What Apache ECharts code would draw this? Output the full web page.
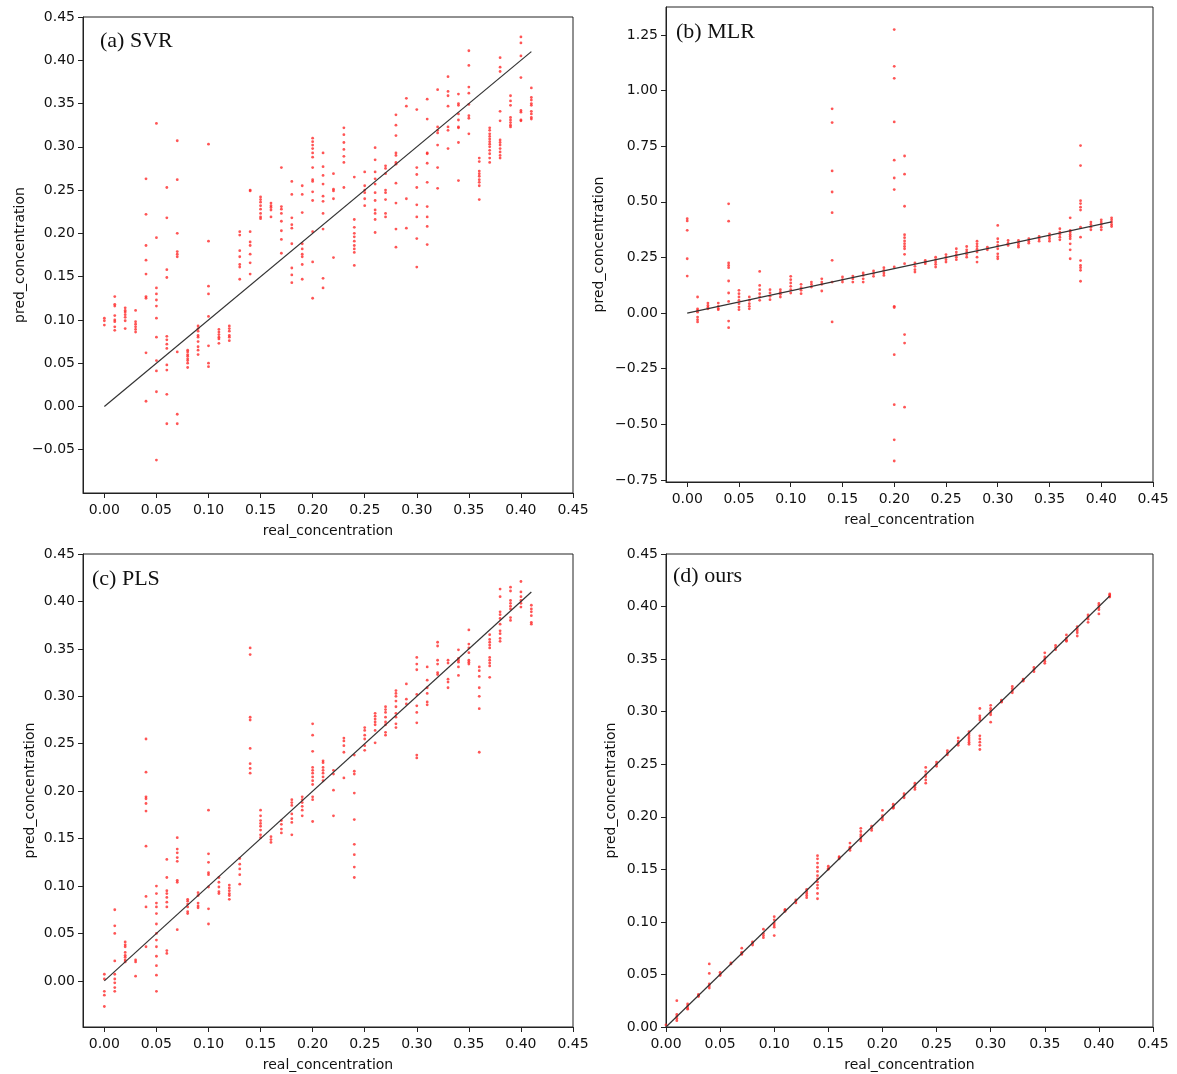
<!DOCTYPE html>
<html><head><meta charset="utf-8">
<script src="https://cdn.jsdelivr.net/npm/echarts@6/dist/echarts.min.js"></script>
<style>html,body{margin:0;padding:0;background:#fff}#c{width:1177px;height:1074px}</style>
</head><body><div id="c"></div>
<script>
const realConc = [0.00,0.01,0.02,0.03,0.04,0.05,0.06,0.07,0.08,0.09,0.10,0.11,0.12,0.13,0.14,0.15,0.16,0.17,0.18,0.19,0.20,0.21,0.22,0.23,0.24,0.25,0.26,0.27,0.28,0.29,0.30,0.31,0.32,0.33,0.34,0.35,0.36,0.37,0.38,0.39,0.40,0.41];

const svrPred = [
[0.102,0.099,0.094],
[0.127,0.118,0.116,0.105,0.100,0.098,0.092,0.088],
[0.114,0.111,0.109,0.106,0.103,0.099,0.090],
[0.111,0.098,0.095,0.092,0.089,0.086],
[0.263,0.222,0.186,0.169,0.153,0.127,0.125,0.062,0.006],
[0.327,0.195,0.137,0.130,0.123,0.116,0.102,0.080,0.053,0.041,0.017,-0.062],
[0.253,0.218,0.158,0.149,0.081,0.077,0.072,0.067,0.048,0.042,0.014,-0.020],
[0.307,0.262,0.200,0.179,0.176,0.173,0.063,-0.009,-0.020],
[0.065,0.063,0.060,0.058,0.055,0.053,0.050,0.045],
[0.093,0.090,0.087,0.082,0.080,0.075,0.069,0.065,0.060],
[0.303,0.191,0.139,0.130,0.104,0.070,0.050,0.046],
[0.089,0.086,0.083,0.080,0.078,0.073],
[0.093,0.090,0.087,0.082,0.080,0.076],
[0.202,0.198,0.180,0.173,0.164,0.161,0.147],
[0.250,0.249,0.202,0.190,0.186,0.176,0.166,0.153],
[0.242,0.239,0.236,0.232,0.228,0.223,0.219,0.217],
[0.235,0.232,0.230,0.227,0.219],
[0.276,0.231,0.228,0.223,0.214,0.203,0.193,0.177],
[0.260,0.245,0.218,0.210,0.206,0.188,0.160,0.152,0.143],
[0.255,0.245,0.224,0.188,0.182,0.176,0.173,0.164,0.147],
[0.310,0.306,0.302,0.298,0.293,0.288,0.276,0.262,0.260,0.248,0.238,0.202,0.167,0.125],
[0.293,0.277,0.267,0.257,0.243,0.237,0.223,0.205,0.148,0.137],
[0.269,0.251,0.249,0.240,0.172],
[0.322,0.314,0.305,0.297,0.289,0.282,0.253],
[0.265,0.216,0.207,0.200,0.196,0.191,0.186,0.182,0.178,0.163],
[0.271,0.255,0.250,0.247,0.240,0.232],
[0.299,0.285,0.271,0.263,0.257,0.247,0.238,0.227,0.223,0.216,0.201],
[0.278,0.275,0.269,0.250,0.247,0.239,0.223,0.219],
[0.337,0.325,0.313,0.293,0.290,0.282,0.280,0.258,0.235,0.205,0.184],
[0.356,0.347,0.240,0.206],
[0.343,0.276,0.268,0.253,0.233,0.219,0.194,0.161],
[0.355,0.332,0.293,0.292,0.281,0.259,0.231,0.219,0.208,0.187],
[0.366,0.323,0.319,0.316,0.302,0.276,0.252],
[0.381,0.364,0.359,0.347,0.323,0.319,0.298],
[0.361,0.350,0.348,0.338,0.331,0.323,0.322,0.305,0.261],
[0.411,0.394,0.369,0.362,0.349,0.336,0.333,0.315],
[0.287,0.283,0.272,0.269,0.266,0.262,0.259,0.255,0.239],
[0.322,0.319,0.315,0.312,0.309,0.306,0.303,0.300,0.296,0.292,0.287,0.282],
[0.403,0.392,0.387,0.341,0.330,0.308,0.305,0.302,0.298,0.294,0.290,0.287],
[0.359,0.353,0.348,0.334,0.331,0.328,0.325,0.323],
[0.427,0.420,0.405,0.380,0.342,0.340,0.331,0.330],
[0.368,0.357,0.354,0.350,0.348,0.341,0.338,0.334,0.332]
];

const mlrPred = [
[0.424,0.414,0.372,0.244,0.166],
[0.072,0.019,0.012,0.004,-0.018,-0.030,-0.040],
[0.045,0.034,0.025,0.019],
[0.045,0.030,0.020,0.015],
[0.491,0.413,0.225,0.214,0.204,0.144,0.090,0.052,-0.036,-0.066],
[0.102,0.087,0.072,0.057,0.042,0.027,0.015],
[0.072,0.057,0.042,0.030,0.019],
[0.187,0.124,0.105,0.087,0.072,0.057],
[0.105,0.090,0.075,0.060],
[0.105,0.094,0.084,0.072],
[0.165,0.150,0.135,0.120,0.105,0.090],
[0.129,0.114,0.102,0.087],
[0.139,0.129,0.117],
[0.154,0.139,0.129,0.099],
[0.918,0.856,0.639,0.544,0.451,0.237,0.139,-0.040],
[0.162,0.150,0.139],
[0.166,0.154,0.139],
[0.180,0.169,0.154,0.139],
[0.189,0.177,0.165],
[0.204,0.192,0.180,0.169],
[1.274,1.109,1.055,0.859,0.687,0.607,0.555,0.207,0.030,0.025,-0.187,-0.412,-0.570,-0.665],
[0.706,0.624,0.480,0.352,0.339,0.324,0.312,0.300,0.289,0.264,0.222,-0.097,-0.135,-0.423],
[0.225,0.210,0.195,0.184],
[0.237,0.229,0.222],
[0.251,0.240,0.229,0.219,0.207],
[0.263,0.251,0.240,0.229],
[0.289,0.274,0.263,0.251,0.240],
[0.299,0.284,0.274,0.263,0.251],
[0.323,0.311,0.299,0.287,0.274,0.251,0.229],
[0.296,0.284],
[0.394,0.334,0.319,0.304,0.289,0.266,0.254,0.244],
[0.326,0.314,0.304],
[0.326,0.314,0.304,0.296],
[0.334,0.323,0.314],
[0.344,0.334,0.323],
[0.356,0.344,0.334,0.323],
[0.379,0.364,0.353,0.341,0.329],
[0.428,0.371,0.364,0.353,0.344,0.334,0.311,0.284,0.244],
[0.753,0.663,0.505,0.492,0.476,0.463,0.386,0.341,0.236,0.214,0.204,0.192,0.143],
[0.409,0.398,0.386,0.374],
[0.419,0.409,0.398,0.386,0.374],
[0.428,0.419,0.409,0.398,0.389]
];

const plsPred = [
[0.007,0.002,-0.011,-0.015,-0.027],
[0.075,0.058,0.050,0.021,0.007,0.002,-0.002,-0.007,-0.011],
[0.041,0.038,0.036,0.030,0.027,0.025,0.022,0.020],
[0.022,0.020,0.005],
[0.255,0.220,0.194,0.192,0.187,0.179,0.142,0.089,0.078,0.036],
[0.100,0.092,0.082,0.078,0.071,0.060,0.050,0.043,0.036,0.026,0.016,0.006,-0.011],
[0.128,0.109,0.095,0.092,0.088,0.083,0.078,0.032,0.029],
[0.151,0.139,0.135,0.130,0.126,0.106,0.104,0.054],
[0.086,0.084,0.081,0.078,0.073,0.071],
[0.093,0.090,0.082,0.079,0.077],
[0.180,0.134,0.125,0.114,0.112,0.099,0.076,0.060],
[0.109,0.104,0.099,0.094,0.092],
[0.101,0.098,0.095,0.092,0.090,0.086],
[0.129,0.123,0.118,0.112,0.102],
[0.351,0.344,0.278,0.275,0.245,0.229,0.224,0.219],
[0.180,0.174,0.169,0.166,0.163,0.159,0.154,0.151],
[0.152,0.149,0.146],
[0.169,0.165,0.160,0.156],
[0.191,0.188,0.185,0.176,0.171,0.167,0.154],
[0.194,0.191,0.188,0.184,0.180,0.174],
[0.271,0.259,0.242,0.225,0.222,0.219,0.215,0.211,0.207,0.194,0.191,0.168],
[0.232,0.230,0.225,0.222,0.219,0.215,0.211],
[0.222,0.218,0.201,0.174],
[0.256,0.253,0.248,0.241,0.214],
[0.238,0.221,0.218,0.198,0.170,0.144,0.133,0.120,0.109],
[0.267,0.264,0.259,0.255,0.248,0.243],
[0.282,0.279,0.276,0.273,0.270,0.264,0.251],
[0.289,0.286,0.283,0.278,0.273,0.270,0.262,0.259],
[0.306,0.303,0.300,0.295,0.289,0.282,0.278,0.271,0.267],
[0.313,0.297,0.292],
[0.341,0.334,0.328,0.302,0.290,0.283,0.272,0.238,0.235],
[0.331,0.317,0.309,0.303,0.294,0.291],
[0.357,0.353,0.338,0.334,0.325,0.323],
[0.338,0.335,0.318,0.315,0.309],
[0.349,0.340,0.338,0.336,0.331,0.322],
[0.370,0.355,0.351,0.346,0.338,0.336,0.334],
[0.331,0.327,0.321,0.309,0.300,0.287,0.241],
[0.365,0.360,0.357,0.354,0.351,0.341,0.338,0.335,0.332,0.320],
[0.413,0.405,0.389,0.386,0.382,0.376,0.369,0.366,0.361,0.358],
[0.415,0.411,0.401,0.398,0.395,0.392,0.383,0.380],
[0.421,0.410,0.405,0.401,0.398,0.394],
[0.396,0.392,0.389,0.385,0.378,0.376]
];

const oursPred = [
[0.002],
[0.025,0.012,0.010,0.008,0.006],
[0.022,0.020,0.018,0.017],
[0.031,0.030,0.029],
[0.060,0.051,0.041,0.039,0.037],
[0.052,0.050,0.049],
[0.061,0.060],
[0.075,0.071,0.070,0.069],
[0.081,0.080,0.078],
[0.093,0.089,0.087,0.085],
[0.105,0.102,0.099,0.097,0.095,0.087],
[0.112,0.111,0.110],
[0.121,0.120,0.118],
[0.131,0.129,0.127,0.125,0.123],
[0.163,0.160,0.156,0.152,0.148,0.144,0.141,0.138,0.135,0.132,0.127,0.122],
[0.153,0.151,0.150],
[0.162,0.161,0.160],
[0.175,0.171,0.170,0.168],
[0.189,0.186,0.183,0.181,0.179,0.177],
[0.191,0.189,0.187],
[0.206,0.201,0.199,0.197],
[0.212,0.210,0.209,0.208],
[0.222,0.220,0.218],
[0.232,0.230,0.228,0.226],
[0.247,0.243,0.240,0.238,0.235,0.232],
[0.252,0.250,0.248],
[0.263,0.261,0.259],
[0.275,0.272,0.270,0.268],
[0.281,0.279,0.277,0.275,0.273,0.271,0.269],
[0.303,0.296,0.294,0.292,0.277,0.274,0.271,0.268,0.264],
[0.306,0.303,0.301,0.299,0.297,0.290],
[0.311,0.310,0.309],
[0.324,0.322,0.320,0.318],
[0.331,0.330,0.329],
[0.342,0.340,0.338],
[0.356,0.352,0.350,0.348,0.346],
[0.363,0.361,0.359],
[0.373,0.370,0.368,0.367],
[0.381,0.379,0.377,0.375,0.372],
[0.392,0.390,0.388,0.385],
[0.403,0.401,0.399,0.397,0.393],
[0.412,0.411,0.410,0.409]
];

const xTicks = [0.00,0.05,0.10,0.15,0.20,0.25,0.30,0.35,0.40,0.45];
const yTicksA = [-0.05,0.00,0.05,0.10,0.15,0.20,0.25,0.30,0.35,0.40,0.45];
const yTicksB = [-0.75,-0.50,-0.25,0.00,0.25,0.50,0.75,1.00,1.25];
const yTicksC = [0.00,0.05,0.10,0.15,0.20,0.25,0.30,0.35,0.40,0.45];
const yTicksD = [0.00,0.05,0.10,0.15,0.20,0.25,0.30,0.35,0.40,0.45];
const panelTitles = ['(a) SVR','(b) MLR','(c) PLS','(d) ours'];
const fitLineX = [0.00,0.41];
const fitLineY = [0.00,0.41];
const xAxisName = 'real_concentration';
const yAxisName = 'pred_concentration';

function toPoints(pred){
  const pts=[];
  pred.forEach((col,i)=>col.forEach(v=>pts.push([realConc[i],v])));
  return pts;
}
const fmt = v => (v<0?'\u2212':'') + Math.abs(v).toFixed(2);

const grids = [
  {left:83, top:17, width:490, height:476},
  {left:666, top:7, width:487, height:475},
  {left:83, top:554, width:490, height:473},
  {left:666, top:554, width:487, height:473}
];
const xMins = [-0.0205,-0.0205,-0.0205,0];
const yRanges = [[-0.1,0.45],[-0.7595,1.3757],[-0.0486,0.45],[0,0.45]];
const yTicks = [yTicksA,yTicksB,yTicksC,yTicksD];
const yNameGaps = [56,60,46,48];
const titlePos = [[100,30],[676,21],[92,568],[673,565]];
const preds = [svrPred,mlrPred,plsPred,oursPred];

const txt = {color:'#111', fontFamily:'DejaVu Sans', fontSize:14};
const option = {
  animation:false,
  backgroundColor:'#fff',
  title: panelTitles.map((t,i)=>({text:t,left:titlePos[i][0],top:titlePos[i][1],padding:0,
    textStyle:{fontFamily:'Liberation Serif',fontWeight:'normal',fontSize:22,color:'#111',lineHeight:22}})),
  grid: grids.map(g=>Object.assign({show:true,borderColor:'#222',borderWidth:1,containLabel:false},g)),
  xAxis: grids.map((g,i)=>({
    type:'value', gridIndex:i, min:xMins[i], max:0.45,
    name:xAxisName, nameLocation:'middle', nameGap:31, nameTextStyle:txt,
    axisLine:{show:true,onZero:false,lineStyle:{color:'#222',width:1}},
    axisTick:{show:true,length:5,lineStyle:{color:'#222'},customValues:xTicks},
    axisLabel:{show:true,margin:10,customValues:xTicks,formatter:fmt,color:'#111',fontFamily:'DejaVu Sans',fontSize:14},
    splitLine:{show:false}
  })),
  yAxis: grids.map((g,i)=>({
    type:'value', gridIndex:i, min:yRanges[i][0], max:yRanges[i][1],
    name:yAxisName, nameLocation:'middle', nameGap:yNameGaps[i], nameRotate:90, nameTextStyle:txt,
    axisLine:{show:true,onZero:false,lineStyle:{color:'#222',width:1}},
    axisTick:{show:true,length:5,lineStyle:{color:'#222'},customValues:yTicks[i]},
    axisLabel:{show:true,margin:8,customValues:yTicks[i],formatter:fmt,color:'#111',fontFamily:'DejaVu Sans',fontSize:14},
    splitLine:{show:false}
  })),
  series: []
};
preds.forEach((p,i)=>{
  option.series.push({type:'scatter',xAxisIndex:i,yAxisIndex:i,data:toPoints(p),
    symbol:'circle',symbolSize:2.8,itemStyle:{color:'#ff2a2a'},z:2});
  option.series.push({type:'line',xAxisIndex:i,yAxisIndex:i,
    data:fitLineX.map((x,k)=>[x,fitLineY[k]]),symbol:'none',
    lineStyle:{color:'#333',width:1.2},z:3});
});
const chart = echarts.init(document.getElementById('c'),null,{renderer:'canvas'});
chart.setOption(option);
</script></body></html>
